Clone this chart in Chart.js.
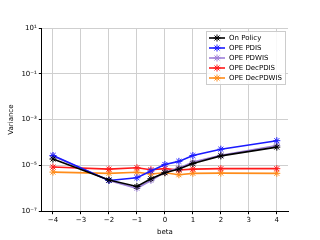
<!DOCTYPE html>
<html>
<head>
<meta charset="utf-8">
<script src="https://cdn.jsdelivr.net/npm/chart.js@4"></script>
<style>
  html, body { margin: 0; padding: 0; background: #fff; }
  #wrap { width: 320px; height: 240px; }
</style>
</head>
<body>
<div id="wrap"><canvas id="variance"></canvas></div>
<script>
const betas = [-4, -2, -1, -0.5, 0, 0.5, 1, 2, 4];
const onPolicy = [1.9e-5, 2.3e-6, 1.2e-6, 2.6e-6, 4.8e-6, 6.9e-6, 1.2e-5, 2.6e-5, 6.3e-5];
const opePdis = [2.7e-5, 2.2e-6, 2.9e-6, 5.7e-6, 1.1e-5, 1.5e-5, 2.7e-5, 5.1e-5, 1.2e-4];
const opePdwis = [2.6e-5, 2.2e-6, 1.0e-6, 2.2e-6, 5.0e-6, 7.6e-6, 1.4e-5, 2.8e-5, 7.4e-5];
const opeDecPdis = [8.5e-6, 6.9e-6, 7.9e-6, 6.5e-6, 7.2e-6, 6.3e-6, 6.9e-6, 7.2e-6, 7.2e-6];
const opeDecPdwis = [5.1e-6, 4.5e-6, 5.0e-6, 4.2e-6, 4.8e-6, 3.9e-6, 4.5e-6, 4.6e-6, 4.5e-6];
const yTicks = [1e1, 1e-1, 1e-3, 1e-5, 1e-7];
const yTickLabels = ["10\u00b9", "10\u207b\u00b9", "10\u207b\u00b3", "10\u207b\u2075", "10\u207b\u2077"];

function series(label, values, color) {
  return {
    label: label,
    data: betas.map((b, i) => ({x: b, y: values[i]})),
    borderColor: color,
    backgroundColor: color,
    borderWidth: 1.6,
    pointStyle: 'star',
    pointRadius: 3.5,
    pointBorderWidth: 1,
    tension: 0
  };
}

// legend drawn inside the plot, top right
const innerLegend = {
  id: 'innerLegend',
  afterDraw(chart) {
    const ctx = chart.ctx;
    const area = chart.chartArea;
    const sets = chart.data.datasets;
    const w = 79, rowH = 10;
    const h = sets.length * rowH + 3;
    const x0 = area.right - w - 3, y0 = area.top + 3;
    ctx.save();
    ctx.fillStyle = 'rgba(255,255,255,0.85)';
    ctx.strokeStyle = '#ccc';
    ctx.lineWidth = 1;
    ctx.fillRect(x0, y0, w, h);
    ctx.strokeRect(x0 + 0.5, y0 + 0.5, w, h);
    ctx.font = '7px "DejaVu Sans"';
    ctx.textBaseline = 'middle';
    sets.forEach((ds, i) => {
      const y = y0 + 7 + i * rowH;
      ctx.strokeStyle = ds.borderColor;
      ctx.fillStyle = ds.borderColor;
      ctx.lineWidth = 1.6;
      ctx.beginPath();
      ctx.moveTo(x0 + 3, y);
      ctx.lineTo(x0 + 19, y);
      ctx.stroke();
      ctx.lineWidth = 1;
      Chart.helpers.drawPoint(ctx, {pointStyle: 'star', radius: 3.5, borderWidth: 1}, x0 + 11, y);
      ctx.fillStyle = '#000';
      ctx.fillText(ds.label, x0 + 23, y + 0.5);
    });
    ctx.restore();
  }
};

new Chart(document.getElementById('variance'), {
  type: 'line',
  data: {
    datasets: [
      series('On Policy', onPolicy, '#000000'),
      series('OPE PDIS', opePdis, '#1a1aff'),
      series('OPE PDWIS', opePdwis, '#9d7fd8'),
      series('OPE DecPDIS', opeDecPdis, '#ff1a1a'),
      series('OPE DecPDWIS', opeDecPdwis, '#ff8c1a')
    ]
  },
  options: {
    responsive: true,
    maintainAspectRatio: false,
    animation: false,
    layout: {padding: {left: 7, right: 32, top: 28, bottom: 0}},
    plugins: {
      legend: {display: false},
      tooltip: {enabled: false}
    },
    scales: {
      x: {
        type: 'linear',
        min: -4.4,
        max: 4.4,
        afterBuildTicks: axis => {
          axis.ticks = [-4, -3, -2, -1, 0, 1, 2, 3, 4].map(v => ({value: v}));
        },
        ticks: {
          color: '#000',
          font: {family: 'DejaVu Sans', size: 7},
          padding: 2,
          callback: v => (v < 0 ? '\u2212' + Math.abs(v) : String(v))
        },
        grid: {color: '#cfcfcf', tickColor: '#000', tickLength: 3},
        border: {color: '#000'},
        title: {display: true, text: 'beta', color: '#000', font: {family: 'DejaVu Sans', size: 7}, padding: {top: 1, bottom: 4}}
      },
      y: {
        type: 'logarithmic',
        min: 1e-7,
        max: 1e1,
        afterBuildTicks: axis => {
          axis.ticks = yTicks.map(v => ({value: v}));
        },
        ticks: {
          color: '#000',
          font: {family: 'DejaVu Sans', size: 7},
          padding: 2,
          callback: v => yTickLabels[yTicks.findIndex(t => Math.abs(Math.log10(t) - Math.log10(v)) < 1e-6)]
        },
        grid: {color: '#cfcfcf', tickColor: '#000', tickLength: 3},
        border: {color: '#000'},
        title: {display: true, text: 'Variance', color: '#000', font: {family: 'DejaVu Sans', size: 7}, padding: {top: 0, bottom: 4}}
      }
    }
  },
  plugins: [innerLegend]
});
</script>
</body>
</html>
